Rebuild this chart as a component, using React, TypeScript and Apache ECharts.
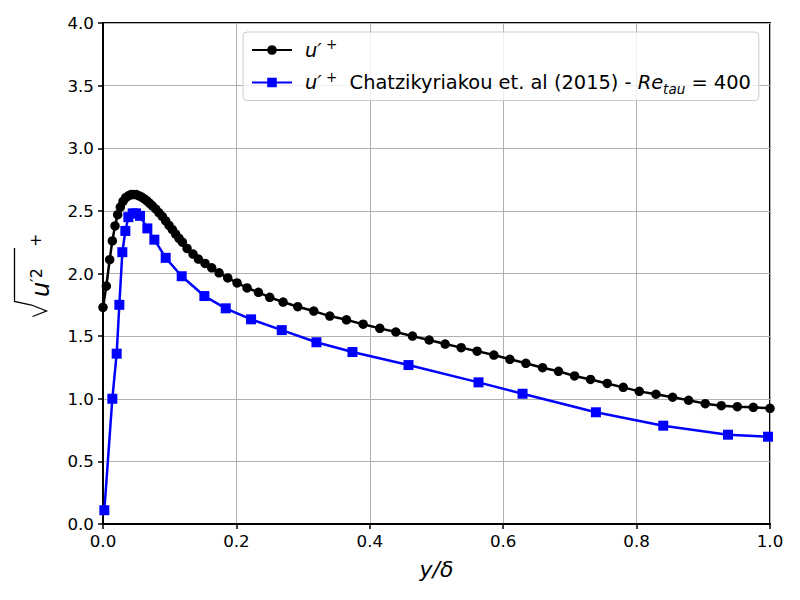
import React, { useEffect, useRef } from "react";
import * as echarts from "echarts";

const blackX = [0, 0.005, 0.010, 0.014, 0.018, 0.022, 0.026, 0.030, 0.034, 0.038, 0.042, 0.046, 0.050, 0.054, 0.058, 0.062, 0.066, 0.070, 0.074, 0.079, 0.084, 0.089, 0.094, 0.099, 0.104, 0.109, 0.114, 0.119, 0.126, 0.135, 0.143, 0.153, 0.163, 0.174, 0.187, 0.201, 0.216, 0.233, 0.250, 0.270, 0.292, 0.316, 0.340, 0.365, 0.390, 0.415, 0.439, 0.464, 0.489, 0.513, 0.537, 0.561, 0.586, 0.610, 0.634, 0.659, 0.683, 0.707, 0.731, 0.756, 0.780, 0.804, 0.829, 0.854, 0.878, 0.903, 0.927, 0.951, 0.975, 1.0];
const blackY = [1.73, 1.90, 2.11, 2.26, 2.38, 2.47, 2.53, 2.575, 2.605, 2.62, 2.63, 2.63, 2.63, 2.62, 2.61, 2.595, 2.58, 2.56, 2.54, 2.515, 2.485, 2.455, 2.42, 2.385, 2.35, 2.315, 2.28, 2.25, 2.20, 2.155, 2.115, 2.08, 2.045, 2.005, 1.965, 1.925, 1.885, 1.85, 1.81, 1.772, 1.735, 1.70, 1.66, 1.63, 1.595, 1.562, 1.533, 1.50, 1.469, 1.437, 1.408, 1.38, 1.349, 1.315, 1.283, 1.248, 1.219, 1.182, 1.154, 1.122, 1.091, 1.059, 1.036, 1.012, 0.988, 0.961, 0.945, 0.937, 0.932, 0.924];

const blueX = [0.002, 0.014, 0.0205, 0.0245, 0.029, 0.0335, 0.038, 0.0445, 0.0495, 0.0555, 0.0665, 0.077, 0.094, 0.118, 0.152, 0.184, 0.222, 0.268, 0.320, 0.374, 0.458, 0.563, 0.629, 0.739, 0.840, 0.937, 0.997];
const blueY = [0.11, 1.00, 1.36, 1.75, 2.17, 2.34, 2.45, 2.48, 2.48, 2.46, 2.36, 2.27, 2.125, 1.978, 1.82, 1.722, 1.634, 1.548, 1.451, 1.373, 1.269, 1.131, 1.040, 0.892, 0.785, 0.713, 0.697];

const seriesNames = ["u′+", "u′+ Chatzikyriakou et. al (2015) - Re_tau = 400"];
const xTicks = { min: 0, max: 1, interval: 0.2 };
const yTicks = { min: 0, max: 4, interval: 0.5 };

const FONT = "DejaVu Sans";

export default function App() {
  const ref = useRef<HTMLDivElement>(null);
  useEffect(() => {
    if (!ref.current) return;
    const chart = echarts.init(ref.current, null, { renderer: "svg" });
    const richBase = { fontFamily: FONT, fontSize: 19.4, color: "#000", lineHeight: 26 };
    chart.setOption({
      animation: false,
      backgroundColor: "#fff",
      textStyle: { fontFamily: FONT },
      grid: {
        left: 103, right: 30, top: 23, bottom: 76,
        show: true, borderColor: "#000", borderWidth: 2, backgroundColor: "transparent",
      },
      xAxis: {
        type: "value",
        min: xTicks.min, max: xTicks.max, interval: xTicks.interval,
        name: "y/δ",
        nameLocation: "middle",
        nameGap: 34,
        nameTextStyle: { fontFamily: FONT, fontSize: 22, fontStyle: "italic", color: "#000" },
        axisLine: { show: true, lineStyle: { color: "#000", width: 2 } },
        axisTick: { show: true, inside: false, length: 5, lineStyle: { color: "#000", width: 1.5 } },
        axisLabel: { fontSize: 16.7, color: "#000", margin: 8, formatter: (v: number) => v.toFixed(1) },
        splitLine: { show: true, lineStyle: { color: "#b0b0b0", width: 1 } },
      },
      yAxis: {
        type: "value",
        min: yTicks.min, max: yTicks.max, interval: yTicks.interval,
        axisLine: { show: true, lineStyle: { color: "#000", width: 2 } },
        axisTick: { show: true, inside: false, length: 5, lineStyle: { color: "#000", width: 1.5 } },
        axisLabel: { fontSize: 16.7, color: "#000", margin: 9, formatter: (v: number) => v.toFixed(1) },
        splitLine: { show: true, lineStyle: { color: "#b0b0b0", width: 1 } },
      },
      legend: {
        orient: "vertical",
        left: 243,
        top: 32,
        padding: [5, 8, 5, 8],
        itemGap: 10,
        itemWidth: 40,
        itemHeight: 12,
        backgroundColor: "rgba(255,255,255,0.8)",
        borderColor: "#cccccc",
        borderWidth: 1,
        borderRadius: 4,
        data: seriesNames,
        formatter: (name: string) =>
          name === seriesNames[0]
            ? "{i|u′}{sup| +}"
            : "{i|u′}{sup| +}{n|  Chatzikyriakou et. al (2015) - }{i|Re}{sub|tau}{n| = 400}",
        textStyle: {
          padding: [0, 0, 0, 8],
          rich: {
            i: { ...richBase, fontStyle: "italic" },
            n: { ...richBase },
            sup: { ...richBase, fontSize: 13.5, verticalAlign: "top" },
            sub: { ...richBase, fontSize: 13.5, fontStyle: "italic", verticalAlign: "bottom" },
          },
        },
      },
      graphic: [
        {
          type: "group",
          x: 14.5,
          y: 320,
          rotation: Math.PI / 2,
          children: [
            {
              type: "polyline",
              shape: { points: [[72, 0], [18.5, 0], [15, 17], [9, 32], [3.5, 18]] },
              style: { stroke: "#000", lineWidth: 1.3, fill: null },
            },
            {
              type: "text",
              x: 23,
              y: 26,
              style: { text: "u", fontFamily: FONT, fontSize: 24, fontStyle: "italic", fill: "#000", align: "left", verticalAlign: "middle" },
            },
            {
              type: "text",
              x: 38,
              y: 22,
              style: { text: "′2", fontFamily: FONT, fontSize: 16, fill: "#000", align: "left", verticalAlign: "middle" },
            },
            {
              type: "text",
              x: 73,
              y: 20.5,
              style: { text: "+", fontFamily: FONT, fontSize: 16, fill: "#000", align: "left", verticalAlign: "middle" },
            },
          ],
        },
      ],
      series: [
        {
          name: seriesNames[0],
          type: "line",
          data: blackX.map((x, i) => [x, blackY[i]]),
          symbol: "circle",
          symbolSize: 9.5,
          showAllSymbol: true,
          color: "#000",
          lineStyle: { color: "#000", width: 2.5 },
          itemStyle: { color: "#000" },
          z: 3,
        },
        {
          name: seriesNames[1],
          type: "line",
          data: blueX.map((x, i) => [x, blueY[i]]),
          symbol: "rect",
          symbolSize: 10,
          showAllSymbol: true,
          color: "#0000ff",
          lineStyle: { color: "#0000ff", width: 2.5 },
          itemStyle: { color: "#0000ff" },
          z: 4,
        },
      ],
    });
    return () => chart.dispose();
  }, []);
  return (
    <div
      ref={ref}
      style={{ position: "absolute", left: 0, top: 0, width: 800, height: 600 }}
    />
  );
}
